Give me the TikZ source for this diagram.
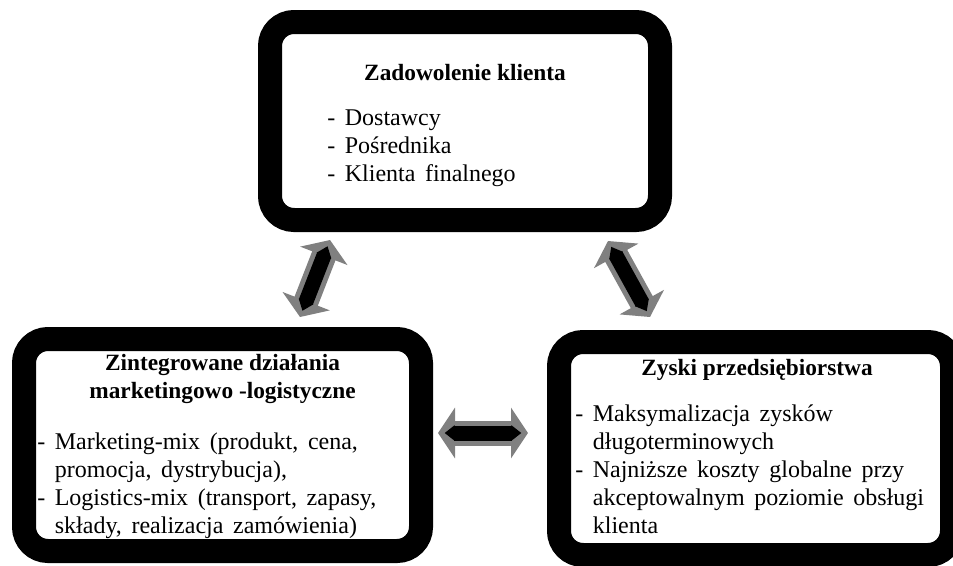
\documentclass[tikz,border=0pt]{standalone}
\usepackage{fontspec}
\setmainfont{Liberation Serif}
\usetikzlibrary{arrows.meta,positioning}
\definecolor{arrgray}{RGB}{128,128,128}
\newcommand\listfont{\fontsize{18}{21}\selectfont\spaceskip=0.4em plus 0.1em\relax}

\begin{document}
\begin{tikzpicture}[
  x=0.75pt, y=-0.75pt,
  frame/.style={draw=black, line width=18pt, rounded corners=18pt, fill=white, inner sep=0pt},
  head/.style={font=\fontsize{17.5}{21}\selectfont\bfseries, align=center, inner sep=0pt, anchor=base},
  list/.style={font=\listfont, align=left, inner sep=0pt, anchor=base west},
  arrout/.style={draw=arrgray, line width=18.75pt, {Triangle[length=12.75pt, width=37.5pt]}-{Triangle[length=12.75pt, width=37.5pt]}},
  arrin/.style={draw=black, line width=11.25pt, shorten <=5pt, shorten >=5pt, {Triangle[length=7.5pt, width=11.25pt]}-{Triangle[length=7.5pt, width=11.25pt]}}
]
  \path[use as bounding box, clip] (0,0) rectangle (953,565);

  % boxes
  \node[frame, minimum width=292.5pt, minimum height=148.5pt] (zad) at (465,121) {};
  \node[frame, minimum width=297.75pt, minimum height=159pt] (integr) at (222.5,445) {};
  \node[frame, minimum width=294.75pt, minimum height=159.75pt] (zyski) at (755.5,448.5) {};

  % texts (base = last line)
  \node[head] (zadT) at (465,80) {Zadowolenie klienta};
  \node[list] (zadL) at (327,181) {- Dostawcy\\- Pośrednika\\- Klienta finalnego};

  \node[head] (integrT) at (222.5,398) {Zintegrowane działania\\marketingowo -logistyczne};
  \node[list] (integrL) at (37,533) {- Marketing-mix (produkt, cena,\\
    \hphantom{-\ }promocja, dystrybucja),\\
    - Logistics-mix (transport, zapasy,\\
    \hphantom{-\ }składy, realizacja zamówienia)};

  \node[head] (zyskiT) at (757,375) {Zyski przedsiębiorstwa};
  \node[list] (zyskiL) at (575,533) {- Maksymalizacja zysków\\
    \hphantom{-\ }długoterminowych\\
    - Najniższe koszty globalne przy\\
    \hphantom{-\ }akceptowalnym poziomie obsługi\\
    \hphantom{-\ }klienta};

  % arrow ends
  \coordinate (integr-top) at (300,317);
  \coordinate (zad-left) at (330,240);
  \coordinate (zad-right) at (608,241);
  \coordinate (zyski-top) at (650,317);
  \coordinate (integr-right) at (438,433);
  \coordinate (zyski-left) at (528,433);

  \draw[arrout] (integr-top) -- (zad-left);
  \draw[arrin] (integr-top) -- (zad-left);
  \draw[arrout] (zad-right) -- (zyski-top);
  \draw[arrin] (zad-right) -- (zyski-top);
  \draw[arrout] (integr-right) -- (zyski-left);
  \draw[arrin] (integr-right) -- (zyski-left);
\end{tikzpicture}
\end{document}
